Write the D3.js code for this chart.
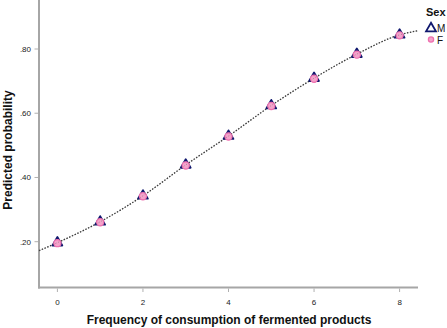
<!DOCTYPE html>
<html><head><meta charset="utf-8">
<script src="https://cdn.jsdelivr.net/npm/d3@7"></script>
<style>body{margin:0;background:#fff}svg{display:block}</style>
</head><body>
<svg id="c" width="447" height="328"></svg>
<script>
const freq = [0,1,2,3,4,5,6,7,8];
const probM = [0.197,0.262,0.343,0.439,0.529,0.624,0.709,0.784,0.844];
const probF = [0.197,0.262,0.343,0.439,0.529,0.624,0.709,0.784,0.844];
const fitX = [-0.43,0,1,2,3,4,5,6,7,8,8.43];
const fitY = [0.172,0.197,0.262,0.343,0.439,0.529,0.624,0.709,0.784,0.844,0.857];
const xTicks = [0,2,4,6,8];
const yTicks = [0.2,0.4,0.6,0.8];
const yTickLabels = [".20",".40",".60",".80"];
const legendTitle = "Sex";
const legendLabels = ["M","F"];

const svg = d3.select("#c");
const font = "Arial, 'Liberation Sans', sans-serif";
const x = d3.scaleLinear().domain([-0.43,8.43]).range([39,418]);
const y = d3.scaleLinear().domain([0.2,0.8]).range([241.7,49]);
const axisColor = "#a6a6a6";

svg.append("line").attr("x1",39).attr("x2",39).attr("y1",0).attr("y2",288.5)
  .attr("stroke",axisColor).attr("stroke-width",2);
svg.append("line").attr("x1",38).attr("x2",418).attr("y1",287.5).attr("y2",287.5)
  .attr("stroke",axisColor).attr("stroke-width",2);

const gx = svg.append("g");
xTicks.forEach(t=>{
  gx.append("line").attr("x1",x(t)).attr("x2",x(t)).attr("y1",288.5).attr("y2",292)
    .attr("stroke","#b0b0b0").attr("stroke-width",1);
  gx.append("text").attr("x",x(t)).attr("y",305).attr("text-anchor","middle")
    .attr("font-family",font).attr("font-size",8).attr("fill","#222").text(d3.format("d")(t));
});
const gy = svg.append("g");
yTicks.forEach((t,i)=>{
  gy.append("line").attr("x1",34.5).attr("x2",38).attr("y1",y(t)).attr("y2",y(t))
    .attr("stroke","#b0b0b0").attr("stroke-width",1);
  gy.append("text").attr("x",31).attr("y",y(t)+3).attr("text-anchor","end")
    .attr("font-family",font).attr("font-size",8).attr("fill","#222").text(yTickLabels[i]);
});

svg.append("text").attr("x",229).attr("y",324).attr("text-anchor","middle")
  .attr("font-family",font).attr("font-size",12).attr("font-weight","bold").attr("fill","#111")
  .text("Frequency of consumption of fermented products");
svg.append("text").attr("transform","translate(12,150) rotate(-90)").attr("text-anchor","middle")
  .attr("font-family",font).attr("font-size",12).attr("font-weight","bold").attr("fill","#111")
  .text("Predicted probability");

const line = d3.line().x(d=>x(d[0])).y(d=>y(d[1])).curve(d3.curveMonotoneX);
svg.append("path").datum(fitX.map((v,i)=>[v,fitY[i]])).attr("d",line)
  .attr("fill","none").attr("stroke","#333").attr("stroke-width",1.3).attr("stroke-dasharray","1.5,1.5");

const tri = d3.symbol().type(d3.symbolTriangle).size(42);
svg.append("g").selectAll("path").data(freq.map((f,i)=>[f,probM[i]])).join("path")
  .attr("d",tri).attr("transform",d=>`translate(${x(d[0])},${y(d[1])})`)
  .attr("fill","#10186e").attr("stroke","#10186e").attr("stroke-width",1.8).attr("stroke-linejoin","round");
svg.append("g").selectAll("circle").data(freq.map((f,i)=>[f,probF[i]])).join("circle")
  .attr("cx",d=>x(d[0])).attr("cy",d=>y(d[1])+0.5).attr("r",3.6)
  .attr("fill","#f4a3cb").attr("stroke","#ee6fae").attr("stroke-width",1.2);
svg.append("path").datum(fitX.map((v,i)=>[v,fitY[i]])).attr("d",line)
  .attr("fill","none").attr("stroke","#555").attr("stroke-width",0.8).attr("stroke-dasharray","1,2").attr("opacity",0.6);

svg.append("text").attr("x",426).attr("y",16).attr("font-family",font).attr("font-size",11)
  .attr("font-weight","bold").attr("fill","#111").text(legendTitle);
svg.append("path").attr("d",d3.symbol().type(d3.symbolTriangle).size(42))
  .attr("transform","translate(431,28.5)").attr("fill","#fff").attr("stroke","#10186e").attr("stroke-width",1.8);
svg.append("text").attr("x",437).attr("y",32).attr("font-family",font).attr("font-size",10).attr("fill","#111").text(legendLabels[0]);
svg.append("circle").attr("cx",431).attr("cy",39.5).attr("r",2.6)
  .attr("fill","#f4a3cb").attr("stroke","#ee6fae").attr("stroke-width",1.3);
svg.append("text").attr("x",437).attr("y",43.5).attr("font-family",font).attr("font-size",10).attr("fill","#111").text(legendLabels[1]);
</script>
</body></html>
